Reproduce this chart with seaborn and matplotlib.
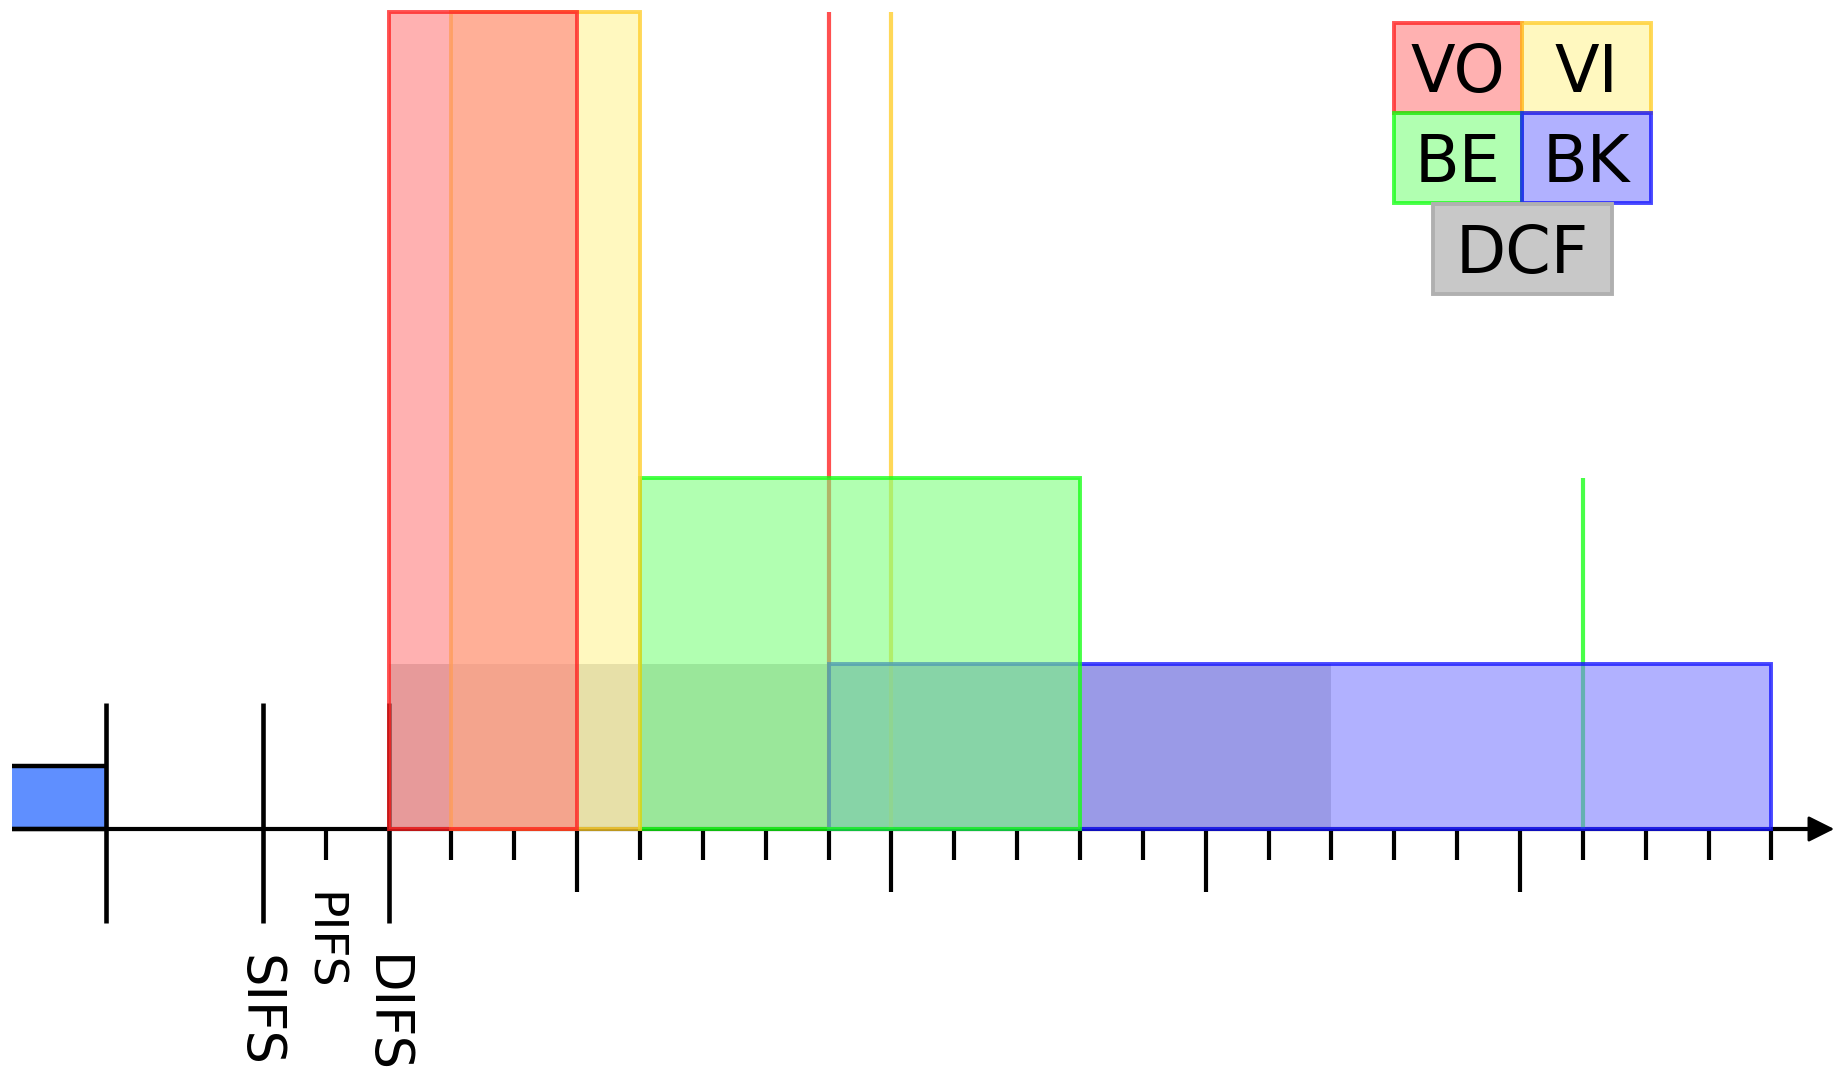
import matplotlib
matplotlib.use("Agg")
import matplotlib.pyplot as plt
import seaborn as sns

# ---------------- data (time in slot units, t = 0 at end of previous frame) ----
SIFS = 2.5
PIFS = 3.5
DIFS = 4.5
n_slots = 22                      # slot ticks after DIFS
long_tick_slots = [3, 8, 13, 18]  # slots (after DIFS) with longer ticks
ifs_labels = ["SIFS", "PIFS", "DIFS"]
ifs_times = [SIFS, PIFS, DIFS]

categories = ["VO", "VI", "BE", "BK", "DCF"]
box_start = [4.5, 5.5, 8.5, 11.5, 4.5]     # AIFS end
cw_min = [3, 3, 7, 15, 15]                 # box width in slots
box_height = [13.0, 13.0, 5.58, 2.62, 2.62]
cw_max = [7, 7, 15, None, None]            # CWmax marker line (slots after start)

frame_start = -1.5
frame_height = 1.0

# ---------------- styles ----------------
face = {
    "VO": (1.0, 122/255, 122/255, 0.58),
    "VI": (1.0, 243/255, 146/255, 0.58),
    "BE": (122/255, 1.0, 122/255, 0.58),
    "BK": (122/255, 122/255, 1.0, 0.58),
    "DCF": (0, 0, 0, 0.216),
}
edge = {
    "VO": (1.0, 31/255, 31/255, 0.78),
    "VI": (1.0, 205/255, 41/255, 0.78),
    "BE": (20/255, 1.0, 20/255, 0.78),
    "BK": (20/255, 20/255, 1.0, 0.78),
    "DCF": (176/255, 176/255, 176/255, 1.0),
}
zorders = {"DCF": 1, "BK": 4, "BE": 5, "VI": 6, "VO": 7}

sns.set_theme(style="white")
plt.rcParams["font.family"] = ["DejaVu Sans"]

PX_PER_UNIT = 62.85
DPI = 100
fig = plt.figure(figsize=(18.38, 10.75), dpi=DPI)
ax = fig.add_axes([0, 0, 1, 1])
ax.set_xlim(-1.683, 27.56)
ax.set_ylim(-3.914, 13.19)
ax.axis("off")


def em_units(fs):
    return fs * DPI / 72.0 / PX_PER_UNIT


# ---------------- previous frame ----------------
ax.bar(frame_start, frame_height, width=-frame_start, align="edge",
       color="#5f8fff", edgecolor="none", zorder=2)
ax.hlines([0, frame_height], frame_start, 0, colors="black", lw=3.2, zorder=3)

# ---------------- time axis ----------------
ax.plot([frame_start, 27.2], [0, 0], color="black", lw=3.0,
        solid_capstyle="butt", zorder=2)
ax.annotate("", xy=(27.5, 0), xytext=(27.0, 0),
            arrowprops=dict(arrowstyle="-|>,head_length=0.8,head_width=0.4",
                            color="black", lw=2.0, mutation_scale=20,
                            shrinkA=0, shrinkB=0), zorder=2)

# tall ticks at 0, SIFS, DIFS; short at PIFS
ax.vlines([0, SIFS, DIFS], -1.5, 2.0, colors="black", lw=3.3, zorder=2)
ax.vlines([PIFS], -0.5, 0, colors="black", lw=3.0, zorder=2)
for k in range(1, n_slots + 1):
    x = DIFS + k
    low = -1.0 if k in long_tick_slots else -0.5
    ax.vlines([x], low, 0, colors="black", lw=3.0, zorder=2)

# IFS labels (rotated)
for lab, t in zip(ifs_labels, ifs_times):
    fs = 34 if lab == "PIFS" else 38
    ytop = -1.0 if lab == "PIFS" else -2.0
    ax.text(t - 0.3645 * em_units(fs), ytop, lab, rotation=270,
            rotation_mode="anchor", ha="left", va="baseline",
            fontsize=fs, color="black", zorder=8)

# ---------------- contention windows ----------------
for cat, s, w, h, cm in zip(categories, box_start, cw_min, box_height, cw_max):
    ax.bar(s, h, width=w, align="edge", color=face[cat],
           edgecolor=(edge[cat] if cat != "DCF" else "none"),
           linewidth=2.8, zorder=zorders[cat])
    if cm is not None:
        ax.vlines([s + cm], 0, h, colors=[edge[cat]], lw=3.0, zorder=3)

# ---------------- legend ----------------
leg_x0, leg_top = 20.49, 12.82
cell_w, cell_h = 2.045, 1.43
leg_cells = {
    "VO": (leg_x0, leg_top - cell_h, cell_w),
    "VI": (leg_x0 + cell_w, leg_top - cell_h, cell_w),
    "BE": (leg_x0, leg_top - 2 * cell_h, cell_w),
    "BK": (leg_x0 + cell_w, leg_top - 2 * cell_h, cell_w),
    "DCF": (21.11, leg_top - 3 * cell_h - 0.02, 2.85),
}
fs_leg = 47
for cat in categories:
    x0, y0, w = leg_cells[cat]
    ax.bar(x0, cell_h, width=w, bottom=y0, align="edge", color=face[cat],
           edgecolor=edge[cat], linewidth=2.8, zorder=9)
    ax.text(x0 + w / 2, y0 + cell_h / 2 - 0.3645 * em_units(fs_leg), cat,
            ha="center", va="baseline", fontsize=fs_leg, color="black",
            zorder=10)

fig.savefig("out.png", dpi=DPI)
